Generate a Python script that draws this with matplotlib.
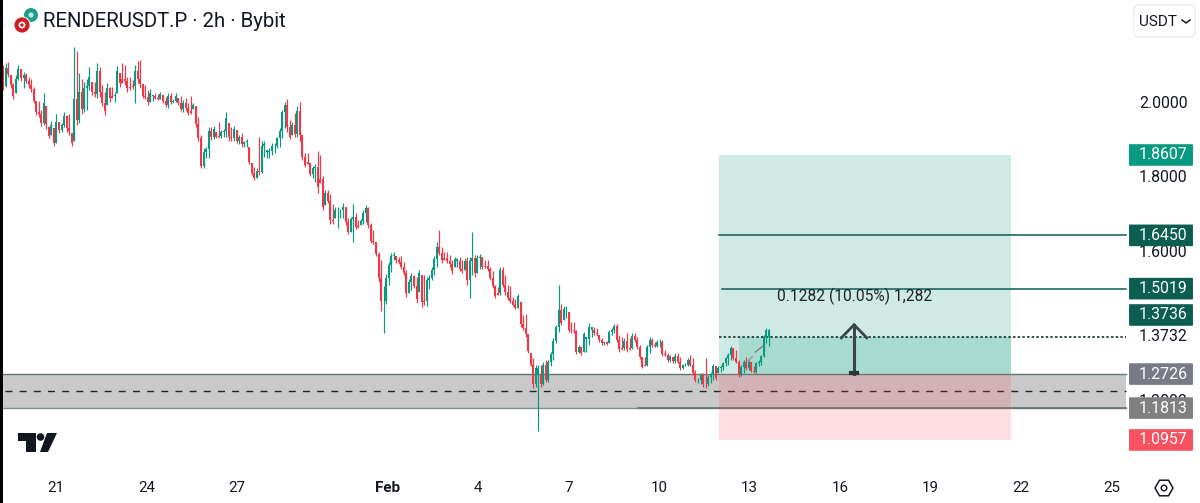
import numpy as np
import matplotlib
matplotlib.use("Agg")
import matplotlib.pyplot as plt
from matplotlib.patches import Rectangle, FancyBboxPatch, Polygon, Circle

plt.rcParams["font.family"] = ["Roboto", "DejaVu Sans"]

# 2h candles (left to right)
highs = [
    2.102,2.107,2.111,2.075,2.053,2.075,2.102,2.091,2.084,2.080,
    2.071,2.066,2.044,2.006,2.006,1.982,2.028,1.992,1.937,1.953,
    1.932,1.971,1.950,1.946,1.977,1.968,1.971,1.919,2.151,2.141,
    2.080,2.064,2.058,2.064,2.096,2.058,2.058,2.109,2.096,2.049,
    2.031,2.053,2.044,2.044,2.031,2.100,2.080,2.109,2.102,2.071,
    2.071,2.062,2.102,2.114,2.116,2.051,2.049,2.035,2.037,2.022,
    2.026,2.024,2.031,2.022,2.017,2.026,2.026,2.010,2.026,2.015,
    2.019,2.008,2.013,1.999,2.019,1.999,1.992,1.962,1.914,1.879,
    1.883,1.935,1.935,1.939,1.923,1.948,1.928,1.930,1.977,1.946,
    1.935,1.939,1.928,1.914,1.919,1.899,1.903,1.883,1.840,1.829,
    1.825,1.908,1.897,1.897,1.874,1.879,1.892,1.892,1.910,1.932,
    1.982,2.004,2.010,1.955,1.950,1.974,1.992,2.004,1.914,1.865,
    1.865,1.840,1.831,1.836,1.872,1.861,1.804,1.767,1.767,1.756,
    1.729,1.722,1.722,1.717,1.731,1.722,1.691,1.695,1.729,1.704,
    1.686,1.688,1.713,1.727,1.722,1.677,1.659,1.628,1.601,1.579,
    1.509,1.541,1.574,1.597,1.599,1.590,1.588,1.590,1.574,1.552,
    1.527,1.543,1.539,1.534,1.552,1.539,1.539,1.534,1.539,1.559,
    1.590,1.628,1.659,1.615,1.601,1.601,1.592,1.579,1.588,1.583,
    1.588,1.579,1.583,1.588,1.588,1.655,1.592,1.592,1.595,1.588,
    1.579,1.579,1.561,1.548,1.512,1.507,1.559,1.559,1.539,1.512,
    1.509,1.479,1.473,1.488,1.467,1.431,1.434,1.380,1.328,1.315,
    1.297,1.297,1.297,1.306,1.310,1.310,1.333,1.369,1.404,1.512,
    1.461,1.454,1.454,1.440,1.413,1.413,1.391,1.351,1.346,1.386,
    1.373,1.409,1.398,1.398,1.395,1.378,1.369,1.362,1.362,1.391,
    1.395,1.407,1.407,1.378,1.373,1.369,1.382,1.369,1.382,1.382,
    1.373,1.351,1.319,1.319,1.351,1.373,1.369,1.360,1.364,1.366,
    1.364,1.337,1.328,1.324,1.319,1.328,1.328,1.319,1.300,1.301,
    1.315,1.324,1.315,1.284,1.261,1.276,1.275,1.315,1.270,1.279,
    1.300,1.293,1.294,1.297,1.306,1.319,1.330,1.348,1.342,1.337,
    1.310,1.297,1.310,1.319,1.310,1.306,1.293,1.306,1.310,1.324,
    1.378,1.395,1.393,
]
lows = [
    2.035,2.044,2.071,2.040,2.010,2.028,2.062,2.060,2.041,2.053,
    2.040,2.031,1.999,1.968,1.964,1.939,1.941,1.930,1.905,1.914,
    1.885,1.892,1.921,1.923,1.937,1.923,1.914,1.885,1.897,1.941,
    1.946,1.971,1.977,1.982,2.035,2.022,2.017,2.015,2.017,1.992,
    1.968,1.995,2.004,2.013,2.004,2.028,2.044,2.053,2.049,2.031,
    2.035,2.037,1.999,2.053,2.040,2.013,2.010,1.995,2.004,2.006,
    2.010,2.008,2.010,2.001,1.989,1.986,1.998,1.999,2.004,1.995,
    1.979,1.977,1.980,1.968,1.971,1.983,1.937,1.897,1.825,1.825,
    1.852,1.852,1.901,1.903,1.905,1.905,1.905,1.910,1.910,1.899,
    1.899,1.897,1.892,1.890,1.883,1.881,1.881,1.836,1.807,1.794,
    1.798,1.807,1.813,1.856,1.852,1.852,1.861,1.865,1.879,1.883,
    1.905,1.932,1.923,1.903,1.914,1.910,1.910,1.897,1.846,1.829,
    1.836,1.803,1.798,1.789,1.760,1.785,1.713,1.727,1.731,1.676,
    1.676,1.691,1.664,1.691,1.691,1.673,1.649,1.655,1.628,1.661,
    1.664,1.673,1.676,1.682,1.664,1.624,1.622,1.590,1.521,1.443,
    1.382,1.462,1.512,1.547,1.579,1.572,1.568,1.554,1.539,1.479,
    1.491,1.498,1.503,1.463,1.494,1.452,1.458,1.455,1.500,1.525,
    1.539,1.561,1.592,1.570,1.579,1.570,1.561,1.541,1.561,1.559,
    1.548,1.543,1.552,1.512,1.476,1.539,1.534,1.543,1.554,1.554,
    1.557,1.548,1.525,1.503,1.476,1.485,1.485,1.507,1.485,1.472,
    1.463,1.454,1.446,1.449,1.400,1.391,1.373,1.328,1.293,1.234,
    1.239,1.121,1.239,1.243,1.252,1.250,1.293,1.310,1.355,1.386,
    1.404,1.418,1.422,1.386,1.384,1.382,1.327,1.328,1.324,1.333,
    1.333,1.351,1.373,1.378,1.375,1.360,1.351,1.351,1.351,1.355,
    1.378,1.384,1.360,1.333,1.337,1.337,1.333,1.337,1.339,1.360,
    1.339,1.312,1.288,1.293,1.293,1.328,1.346,1.344,1.346,1.346,
    1.321,1.321,1.306,1.306,1.303,1.301,1.301,1.284,1.285,1.293,
    1.293,1.293,1.270,1.252,1.248,1.246,1.239,1.234,1.241,1.248,
    1.257,1.257,1.275,1.279,1.284,1.293,1.297,1.310,1.310,1.301,
    1.266,1.267,1.275,1.284,1.284,1.279,1.275,1.275,1.293,1.297,
    1.319,1.355,1.348,
]
closes = [
    2.045,2.095,2.078,2.048,2.018,2.065,2.092,2.067,2.075,2.060,
    2.048,2.038,2.006,1.975,1.972,1.946,2.000,1.945,1.912,1.942,
    1.893,1.950,1.928,1.940,1.965,1.932,1.925,1.892,2.010,1.955,
    2.030,1.985,2.040,2.045,2.070,2.030,2.025,2.085,2.030,2.000,
    1.980,2.040,2.015,2.020,2.022,2.085,2.055,2.065,2.060,2.040,
    2.042,2.045,2.085,2.065,2.050,2.020,2.016,2.002,2.028,2.018,
    2.014,2.012,2.024,2.006,1.994,2.018,2.004,2.007,2.020,2.001,
    1.985,2.000,1.988,1.974,1.980,1.994,1.945,1.905,1.832,1.870,
    1.878,1.925,1.908,1.930,1.910,1.912,1.922,1.925,1.960,1.908,
    1.905,1.930,1.898,1.908,1.890,1.895,1.897,1.842,1.812,1.800,
    1.818,1.815,1.885,1.890,1.870,1.872,1.885,1.886,1.905,1.925,
    1.975,1.995,1.935,1.910,1.942,1.918,1.980,1.915,1.855,1.835,
    1.842,1.810,1.825,1.828,1.775,1.795,1.722,1.760,1.738,1.685,
    1.684,1.714,1.712,1.712,1.722,1.680,1.655,1.688,1.695,1.668,
    1.670,1.684,1.706,1.718,1.672,1.630,1.628,1.596,1.530,1.470,
    1.470,1.530,1.565,1.590,1.593,1.578,1.574,1.560,1.545,1.490,
    1.520,1.535,1.510,1.475,1.545,1.465,1.468,1.525,1.530,1.552,
    1.582,1.615,1.598,1.578,1.585,1.576,1.568,1.548,1.582,1.577,
    1.555,1.550,1.576,1.525,1.575,1.585,1.545,1.585,1.588,1.560,
    1.562,1.555,1.530,1.510,1.482,1.490,1.552,1.512,1.492,1.478,
    1.470,1.458,1.450,1.482,1.408,1.396,1.380,1.335,1.298,1.245,
    1.290,1.270,1.245,1.298,1.258,1.304,1.327,1.362,1.398,1.445,
    1.410,1.448,1.448,1.392,1.390,1.388,1.332,1.346,1.330,1.380,
    1.367,1.400,1.392,1.382,1.380,1.364,1.355,1.358,1.353,1.385,
    1.390,1.402,1.365,1.340,1.342,1.362,1.340,1.342,1.376,1.365,
    1.345,1.318,1.292,1.298,1.345,1.365,1.350,1.347,1.360,1.360,
    1.327,1.324,1.310,1.320,1.307,1.322,1.305,1.290,1.296,1.298,
    1.310,1.298,1.275,1.256,1.258,1.272,1.245,1.245,1.265,1.273,
    1.295,1.262,1.290,1.292,1.302,1.315,1.325,1.343,1.315,1.306,
    1.270,1.292,1.305,1.288,1.305,1.282,1.278,1.302,1.306,1.320,
    1.372,1.390,1.373,
]
# g = up candle, r = down candle
directions = (
    "rgrrrggrgr" "rrrrrrgrrg" "rgrggrrrgr" "grgggrrgrr" "rgrrggrrrr"
    "rrgrrrrrgg" "rrgrrgrggr" "rgrrrgrrrg" "ggrgrrgggr" "rgrgrggrrr"
    "grgggggggg" "ggrrgrgrrr" "rrggrrrgrr" "rggggrrggr" "rgggrrrrrr"
    "gggggrrrrr" "ggrrgrrggg" "ggrrrrrrgg" "rrgrggrggr" "rrrrrrgrrr"
    "rrrgrrrrrr" "ggrgrggggg" "rggrrrrgrg" "gggrrrrgrg" "ggrrrgrrgr"
    "rrrrggrrgg" "rrrgrgrrgg" "grrrggrrgg" "grggggggrr" "rggrgrrggg"
    "ggg"
)

bar_start = -1.75   # days after Jan 21
bar_step = 0.0841

tick_days = [0, 3, 6, 11, 14, 17, 20, 23, 26, 29, 32, 35]
tick_labels = ["21", "24", "27", "Feb", "4", "7", "10", "13", "16", "19", "22", "25"]

axis_prices = [2.0, 1.8, 1.6, 1.2]
axis_labels = ["2.0000", "1.8000", "1.6000", "1.2000"]
last_price = 1.3732

# 1.3736 tag sits one row above its level, the axis label takes its place
tag_rows = [1.8607, 1.6450, 1.5019, 1.4312, 1.2726, 1.1813, 1.0957]
tag_labels = ["1.8607", "1.6450", "1.5019", "1.3736", "1.2726", "1.1813", "1.0957"]
tag_colors = ["#089981", "#0b5e50", "#0b5e50", "#0b5e50", "#787b86", "#808080", "#f7525f"]

zone_top = 1.2726
zone_bottom = 1.1813
zone_mid = 1.2280
target = 1.8607
stop = 1.0957
tp1 = 1.6450
tp2 = 1.5019

GREEN = "#089981"
RED = "#f23645"

fig = plt.figure(figsize=(12, 5.03), dpi=100)
ax = fig.add_axes([0, 0, 1, 1])
ax.set_xlim(-56 / 30.15, (1200 - 56) / 30.15)
ax.set_ylim(1.8607 - 348 / 372.5, 1.8607 + 155 / 372.5)
ax.axis("off")

right_edge = 35.5
box_left = 21.99
box_right = 31.68
box_inner = 22.65

# zone
ax.add_patch(Rectangle((-1.8, zone_bottom), right_edge + 1.8, zone_top - zone_bottom,
                       fc="#c9c9c9", ec="none", zorder=1))
ax.plot([-1.8, right_edge], [zone_top, zone_top], color="#5e7a72", lw=1.0, zorder=2)
ax.plot([-1.8, right_edge], [zone_bottom, zone_bottom], color="#7d8f8a", lw=1.0, zorder=2)
ax.plot([19.3, right_edge], [zone_bottom, zone_bottom], color="#5f6b68", lw=1.1, zorder=2)
ax.plot([-1.7, right_edge], [zone_mid, zone_mid], color="#222222", lw=1.0,
        dashes=(5, 5.2), zorder=2)

# long position box
ax.add_patch(Rectangle((box_left, zone_top), box_right - box_left, target - zone_top,
                       fc="#cfeae4", ec="none", zorder=1.5))
ax.add_patch(Rectangle((box_inner, zone_top), box_right - box_inner, last_price - zone_top,
                       fc="#a7dbcf", ec="none", zorder=1.6))
ax.add_patch(Rectangle((box_left, stop), box_right - box_left, zone_top - stop,
                       fc="#f7525f", alpha=0.18, ec="none", zorder=2.5))

# levels
ax.plot([box_left, right_edge], [tp1, tp1], color="#0b5e50", lw=1.1, zorder=3)
ax.plot([box_left + 0.1, right_edge], [tp2, tp2], color="#0b5e50", lw=1.1, zorder=3)
ax.plot([box_left, right_edge], [last_price, last_price], color="#14352e", lw=1.2,
        dashes=(1.5, 1.3), zorder=3)

# candles
times = bar_start + bar_step * np.arange(len(closes))
highs_a = np.array(highs)
lows_a = np.array(lows)
closes_a = np.array(closes)
opens_a = np.clip(np.r_[closes_a[0], closes_a[:-1]], lows_a, highs_a)
colors = [GREEN if d == "g" else RED for d in directions]
ax.vlines(times, lows_a, highs_a, colors=colors, lw=0.85, zorder=4)
ax.vlines(times, np.minimum(opens_a, closes_a), np.maximum(opens_a, closes_a),
          colors=colors, lw=1.45, zorder=4.1)

# arrow drawing
arrow_x = 26.47
ax.plot([arrow_x, arrow_x], [1.2726, 1.405], color="#3b4549", lw=2.2, zorder=5)
ax.plot([arrow_x - 0.42, arrow_x, arrow_x + 0.42], [1.370, 1.405, 1.370], color="#3b4549",
        lw=2.0, zorder=5, solid_joinstyle="miter")
ax.plot([arrow_x - 0.1, arrow_x + 0.1], [1.2745, 1.2745], color="#2b3437", lw=3, zorder=5)
ax.plot([23.2, 23.45], [1.332, 1.348], color="#7b8a86", lw=1.1, zorder=5)
ax.plot([22.95, 23.09], [1.308, 1.319], color="#8b9a96", lw=1.0, zorder=5)

ax.text(26.5, 1.4805, "0.1282 (10.05%) 1,282", ha="center", va="center", fontsize=11.2,
        color="#1e2226", zorder=6)

# price axis labels
price_x = 36.72
for p, lab in zip(axis_prices, axis_labels):
    ax.text(price_x, p, lab, ha="center", va="center", fontsize=11.4, color="#131722", zorder=6)
ax.text(price_x, last_price, "1.3732", ha="center", va="center", fontsize=11.4,
        color="#131722", zorder=6)

for p, lab, col in zip(tag_rows, tag_labels, tag_colors):
    ax.add_patch(FancyBboxPatch((35.59, p - 0.029), 2.12, 0.058,
                                boxstyle="round,pad=0,rounding_size=0.05",
                                mutation_aspect=0.03, fc=col, ec="none", zorder=7))
    ax.text(price_x, p, lab, ha="center", va="center", fontsize=11.4, color="white", zorder=8)

# date axis
for d, lab in zip(tick_days, tick_labels):
    ax.text(d, 0.9265 + 15 / 372.5, lab, ha="center", va="center", fontsize=10.9,
            color="#131722", fontweight="bold" if lab == "Feb" else "normal", zorder=6)

# chrome in pixel coordinates
ui = fig.add_axes([0, 0, 1, 1], facecolor="none")
ui.set_xlim(0, 1200)
ui.set_ylim(503, 0)
ui.axis("off")
ui.add_patch(Rectangle((0, 0), 3, 503, fc="black", ec="none"))
ui.text(43, 21.5, "RENDERUSDT.P · 2h · Bybit", ha="left", va="center", fontsize=14.7, color="#131722")

ui.add_patch(Circle((31, 15), 7, fc="#1b9e8c", ec="none"))
ui.add_patch(Circle((31, 15), 2.6, fc="#bfe6df", ec="none"))
ui.add_patch(Circle((22, 25), 8.6, fc="white", ec="none"))
ui.add_patch(Circle((22, 25), 7.6, fc="#cf1f26", ec="none"))
ui.add_patch(Circle((22, 25), 3.4, fc="white", ec="none"))
ui.add_patch(Circle((22, 25), 1.7, fc="#cf1f26", ec="none"))

ui.add_patch(FancyBboxPatch((1134, 5), 61, 32, boxstyle="round,pad=0,rounding_size=5",
                            fc="white", ec="#e4e6ea", lw=0.8))
ui.text(1139, 21.5, "USDT", ha="left", va="center", fontsize=11, color="#131722")
ui.plot([1182, 1186, 1190], [20, 23, 20], color="#131722", lw=1.1)

# tv logo
ui.add_patch(Polygon([(18, 433), (36, 433), (36, 452), (26, 452), (26, 441), (18, 441)], fc="#131722", ec="none"))
ui.add_patch(Circle((40.5, 437), 3.8, fc="#131722", ec="none"))
ui.add_patch(Polygon([(47, 433), (57, 433), (48, 452), (40, 452)], fc="#131722", ec="none"))

# settings icon
ang = np.deg2rad(np.arange(0, 360, 60))
ui.add_patch(Polygon(np.c_[1164 + 9 * np.cos(ang), 488 + 9 * np.sin(ang)], fc="none", ec="#131722", lw=1.1))
ui.add_patch(Circle((1164, 488), 2.8, fc="none", ec="#131722", lw=1.0))

fig.savefig("out.png", dpi=100, facecolor="white")
